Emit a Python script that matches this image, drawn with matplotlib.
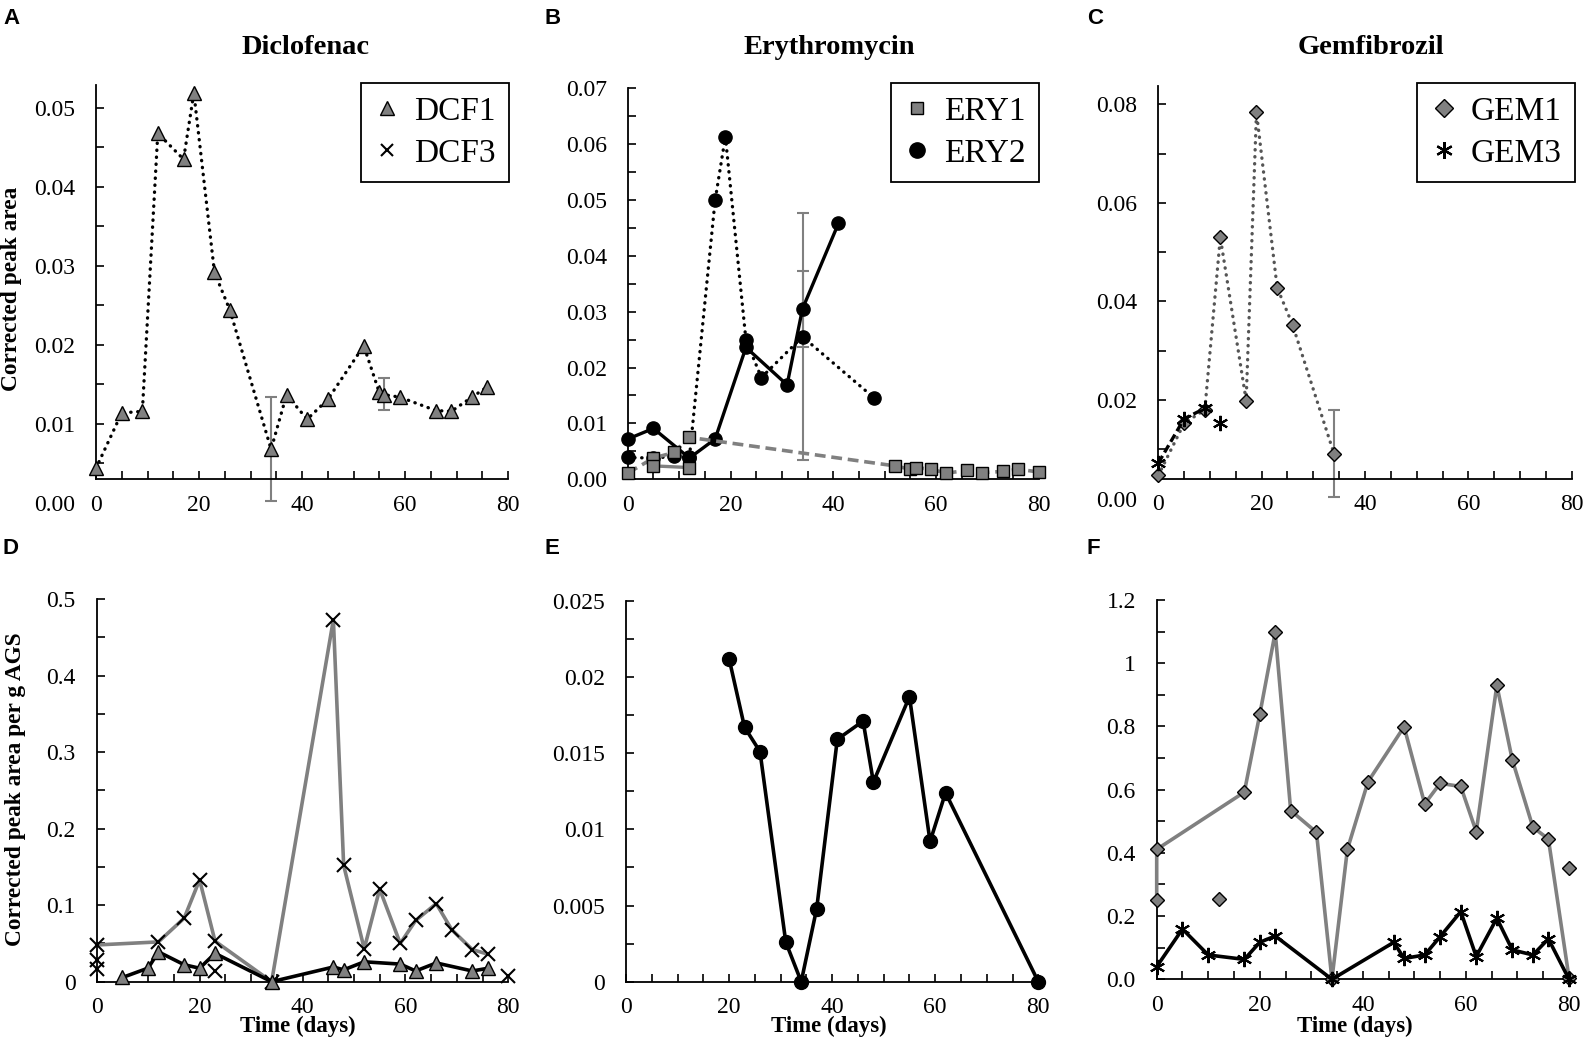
import numpy as np
import matplotlib.pyplot as plt
from matplotlib.lines import Line2D
from matplotlib.ticker import MultipleLocator, FuncFormatter

# ---- panel A: diclofenac, corrected peak area ----
dcf1_days = [0, 5, 9, 12, 17, 19, 23, 26, 34, 37, 41, 45, 52, 55, 56, 59, 66, 69, 73, 76]
dcf1_area = [0.0044, 0.0114, 0.0116, 0.0468, 0.0435, 0.0519, 0.0292, 0.0244, 0.0068, 0.0137,
             0.0106, 0.0131, 0.0199, 0.0140, 0.0137, 0.0134, 0.0117, 0.0116, 0.0134, 0.0147]
dcf1_err_days = [34, 56]
dcf1_err_mean = [0.0068, 0.0138]
dcf1_err = [0.0066, 0.0020]

# ---- panel B: erythromycin ----
ery1a_days = [0, 5, 9, 12, 52, 55, 56, 59, 62, 66, 69, 73, 76, 80]
ery1a_area = [0.0011, 0.0038, 0.0048, 0.0075, 0.0024, 0.0018, 0.0021, 0.0018, 0.0011, 0.0016,
              0.0012, 0.0014, 0.0018, 0.0013]
ery1b_days = [5, 12]
ery1b_area = [0.0024, 0.0021]
ery2a_days = [0, 5, 12, 17, 23, 31, 34, 41]
ery2a_area = [0.0072, 0.0091, 0.0038, 0.0072, 0.0236, 0.0169, 0.0305, 0.0458]
ery2b_days = [0, 5, 9, 12, 17, 19, 23, 26, 34, 48]
ery2b_area = [0.0039, 0.0038, 0.0041, 0.0039, 0.0499, 0.0613, 0.0249, 0.0182, 0.0255, 0.0145]
ery_err_days = [34, 34]
ery_err_mean = [0.0255, 0.0305]
ery_err = [0.0221, 0.0068]

# ---- panel C: gemfibrozil ----
gem1_days = [0, 5, 9, 12, 17, 19, 23, 26, 34]
gem1_area = [0.0047, 0.0153, 0.0180, 0.0530, 0.0199, 0.0784, 0.0428, 0.0352, 0.0091]
gem1_err_days = [34]
gem1_err_mean = [0.0091]
gem1_err = [0.0088]
gem3_days = [0, 5, 9, 12]
gem3_area = [0.0072, 0.0162, 0.0183, 0.0153]

# ---- panel D: diclofenac per g AGS ----
dcf3g_days = [0, 12, 17, 20, 23, 34, 46, 48, 52, 55, 59, 62, 66, 69, 73, 76]
dcf3g_area = [0.048, 0.052, 0.083, 0.133, 0.053, 0.0, 0.473, 0.152, 0.043, 0.121, 0.050,
              0.080, 0.102, 0.068, 0.042, 0.036]
dcf3g_extra_days = [0, 0, 23, 80]
dcf3g_extra_area = [0.029, 0.017, 0.014, 0.008]
dcf1g_days = [5, 10, 12, 17, 20, 23, 34, 46, 48, 52, 59, 62, 66, 73, 76]
dcf1g_area = [0.0055, 0.0178, 0.039, 0.0222, 0.0176, 0.037, 0.0, 0.0192, 0.0155, 0.026,
              0.023, 0.014, 0.0245, 0.014, 0.0175]

# ---- panel E: erythromycin per g AGS ----
ery2g_days = [20, 23, 26, 31, 34, 37, 41, 46, 48, 55, 59, 62, 80]
ery2g_area = [0.0212, 0.0167, 0.0151, 0.0026, 0.0, 0.0048, 0.0159, 0.0171, 0.0131, 0.0187,
              0.0092, 0.0124, 0.0]

# ---- panel F: gemfibrozil per g AGS ----
gem1g_days = [0, 0, 17, 20, 23, 26, 31, 34, 37, 41, 48, 52, 55, 59, 62, 66, 69, 73, 76, 80]
gem1g_area = [0.25, 0.411, 0.592, 0.838, 1.098, 0.534, 0.465, 0.0, 0.411, 0.625, 0.799, 0.555,
              0.62, 0.61, 0.467, 0.93, 0.694, 0.481, 0.444, 0.005]
gem1g_extra_days = [12, 80]
gem1g_extra_area = [0.253, 0.351]
gem3g_days = [0, 5, 10, 17, 20, 23, 34, 46, 48, 52, 55, 59, 62, 66, 69, 73, 76, 80]
gem3g_area = [0.040, 0.159, 0.077, 0.063, 0.117, 0.137, 0.0, 0.117, 0.066, 0.077, 0.135,
              0.214, 0.072, 0.193, 0.093, 0.077, 0.128, 0.0]

SERIF = 'Liberation Serif'
SANS = 'Liberation Sans'
GREY = '#808080'
W, H = 1583, 1047

fig = plt.figure(figsize=(W / 100, H / 100), dpi=100)


def make_axes(left, top, right, bottom):
    return fig.add_axes([left / W, 1 - bottom / H, (right - left) / W, (bottom - top) / H])


def general(v, pos):
    return '%g' % v


def style(ax, ymax, ymajor, yminor, fmt, ycross=0.0):
    ax.set_xlim(0, 80)
    ax.set_ylim(0, ymax)
    for s in ['top', 'right']:
        ax.spines[s].set_visible(False)
    for s in ['left', 'bottom']:
        ax.spines[s].set_linewidth(1.3)
    ax.spines['bottom'].set_position(('data', ycross))
    ax.spines['left'].set_bounds(ycross, ymax)
    ax.xaxis.set_major_locator(MultipleLocator(20))
    ax.xaxis.set_minor_locator(MultipleLocator(5))
    ax.set_yticks(np.arange(0, ymax + 1e-9, ymajor))
    ax.yaxis.set_minor_locator(MultipleLocator(yminor))
    ax.set_ylim(0, ymax)
    ax.xaxis.set_major_formatter(FuncFormatter(general))
    ax.yaxis.set_major_formatter(FuncFormatter(fmt))
    ax.tick_params(which='both', direction='in', length=6, width=1.2)
    ax.tick_params(axis='x', pad=11)
    ax.tick_params(axis='y', pad=15)
    for lab in ax.get_xticklabels() + ax.get_yticklabels():
        lab.set_fontfamily(SERIF)
        lab.set_fontsize(17)
    if ycross > 0:
        ax.yaxis.get_major_ticks()[0].tick1line.set_visible(False)


dot = dict(linestyle=(0, (0.1, 2.0)), dash_capstyle='round', linewidth=2.4)
mk_grey = dict(markerfacecolor=GREY, markeredgecolor='black', markeredgewidth=1.0)

# A
axA = make_axes(96, 85, 508, 503)
style(axA, 0.0529, 0.01, 0.005, lambda v, p: '%.2f' % v, ycross=0.003)
axA.errorbar(dcf1_err_days, dcf1_err_mean, yerr=dcf1_err, fmt='none', ecolor=GREY,
             elinewidth=1.5, capsize=4, capthick=1.5, clip_on=False, zorder=2)
axA.plot(dcf1_days, dcf1_area, color='black', marker='^', markersize=10.5, clip_on=False,
         zorder=3, **dot, **mk_grey)

# B
axB = make_axes(627.7, 88, 1039, 479.3)
style(axB, 0.07, 0.01, 0.005, lambda v, p: '%.2f' % v)
axB.errorbar(ery_err_days, ery_err_mean, yerr=ery_err, fmt='none', ecolor=GREY,
             elinewidth=1.5, capsize=4, capthick=1.5, zorder=2)
axB.plot(ery2a_days, ery2a_area, color='black', linewidth=2.4, marker='o', markersize=9.5,
         markerfacecolor='black', clip_on=False, zorder=3)
axB.plot(ery2b_days, ery2b_area, color='black', marker='o', markersize=9.5,
         markerfacecolor='black', clip_on=False, zorder=3, **dot)
axB.plot(ery1a_days, ery1a_area, color=GREY, linewidth=2.6, linestyle=(0, (3, 1.6)),
         marker='s', markersize=8.5, clip_on=False, zorder=4, **mk_grey)
axB.plot(ery1b_days, ery1b_area, color=GREY, linewidth=2.4, marker='s', markersize=8.5,
         clip_on=False, zorder=4, **mk_grey)

# C
axC = make_axes(1158.3, 86, 1571.7, 498.6)
style(axC, 0.0837, 0.02, 0.01, lambda v, p: '%.2f' % v, ycross=0.004)
axC.errorbar(gem1_err_days, gem1_err_mean, yerr=gem1_err, fmt='none', ecolor=GREY,
             elinewidth=1.5, capsize=4, capthick=1.5, clip_on=False, zorder=2)
axC.plot(gem1_days, gem1_area, color='#555555', marker='D', markersize=7.5, clip_on=False,
         zorder=3, **dot, **mk_grey)
axC.plot(gem3_days[:3], gem3_area[:3], color='black', linewidth=2.4,
         linestyle=(0, (2.5, 1.2)), zorder=4)
axC.plot(gem3_days, gem3_area, linestyle='none', marker=(6, 2, 0), markersize=11,
         markeredgecolor='black', markeredgewidth=1.5, clip_on=False, zorder=4)

# D
axD = make_axes(96.7, 599, 508.3, 981.7)
style(axD, 0.5, 0.1, 0.05, general)
axD.plot(dcf3g_days, dcf3g_area, color=GREY, linewidth=2.6, marker='x', markersize=10,
         markeredgecolor='black', markeredgewidth=1.5, clip_on=False, zorder=3)
axD.plot(dcf3g_extra_days, dcf3g_extra_area, linestyle='none', marker='x', markersize=10,
         markeredgecolor='black', markeredgewidth=1.5, clip_on=False, zorder=3)
axD.plot(dcf1g_days, dcf1g_area, color='black', linewidth=2.6, marker='^', markersize=10.5,
         clip_on=False, zorder=4, **mk_grey)

# E
axE = make_axes(626, 600.7, 1038.3, 981.7)
style(axE, 0.025, 0.005, 0.0025, general)
axE.plot(ery2g_days, ery2g_area, color='black', linewidth=2.6, marker='o', markersize=10,
         markerfacecolor='black', clip_on=False, zorder=3)

# F
axF = make_axes(1156.7, 600, 1569, 979.3)
style(axF, 1.2, 0.2, 0.1, lambda v, p: '0.0' if v == 0 else '%g' % round(v, 1))
axF.plot(gem1g_days, gem1g_area, color=GREY, linewidth=2.6, marker='D', markersize=7.5,
         clip_on=False, zorder=3, **mk_grey)
axF.plot(gem1g_extra_days, gem1g_extra_area, linestyle='none', marker='D', markersize=7.5,
         clip_on=False, zorder=3, **mk_grey)
axF.plot(gem3g_days, gem3g_area, color='black', linewidth=2.6, marker=(6, 2, 0),
         markersize=11, markeredgecolor='black', markeredgewidth=1.5, clip_on=False, zorder=4)

# legends
def legend(ax, handles, labels, right, top):
    leg = ax.legend(handles, labels, loc='upper right',
                    bbox_to_anchor=(right / W, 1 - top / H), bbox_transform=fig.transFigure,
                    borderaxespad=0, fancybox=False, framealpha=1, edgecolor='black',
                    handlelength=0.8, handletextpad=0.4, borderpad=0.4, labelspacing=0.35,
                    prop={'family': SERIF, 'size': 24})
    leg.get_frame().set_linewidth(1.3)


legend(axA, [Line2D([], [], linestyle='none', marker='^', markersize=10, **mk_grey),
             Line2D([], [], linestyle='none', marker='x', markersize=9, markeredgecolor='black',
                    markeredgewidth=1.5)],
       ['DCF1', 'DCF3'], 509, 83)
legend(axB, [Line2D([], [], linestyle='none', marker='s', markersize=9, **mk_grey),
             Line2D([], [], linestyle='none', marker='o', markersize=11, color='black')],
       ['ERY1', 'ERY2'], 1039, 83)
legend(axC, [Line2D([], [], linestyle='none', marker='D', markersize=9, **mk_grey),
             Line2D([], [], linestyle='none', marker=(6, 2, 0), markersize=12,
                    markeredgecolor='black', markeredgewidth=1.6)],
       ['GEM1', 'GEM3'], 1575, 83)

# titles, panel letters and axis labels
for x, name in [(306, 'Diclofenac'), (829, 'Erythromycin'), (1371, 'Gemfibrozil')]:
    fig.text(x / W, 1 - 48 / H, name, ha='center', va='center', family=SERIF,
             fontweight='bold', fontsize=20.5)
for x, y, letter in [(3, 18, 'A'), (544, 18, 'B'), (1087, 18, 'C'),
                     (3, 548, 'D'), (544, 548, 'E'), (1087, 548, 'F')]:
    fig.text(x / W, 1 - y / H, letter, ha='left', va='center', family=SANS,
             fontweight='bold', fontsize=16)
fig.text(12 / W, 1 - 289 / H, 'Corrected peak area', rotation=90, ha='center', va='center',
         family=SERIF, fontweight='bold', fontsize=16.8)
fig.text(16 / W, 1 - 789 / H, 'Corrected peak area per g AGS', rotation=90, ha='center',
         va='center', family=SERIF, fontweight='bold', fontsize=16.8)
for x in [298, 829, 1355]:
    fig.text(x / W, 1 - 1026 / H, 'Time (days)', ha='center', va='center', family=SERIF,
             fontweight='bold', fontsize=16.5)

fig.savefig('out.png', dpi=100)
